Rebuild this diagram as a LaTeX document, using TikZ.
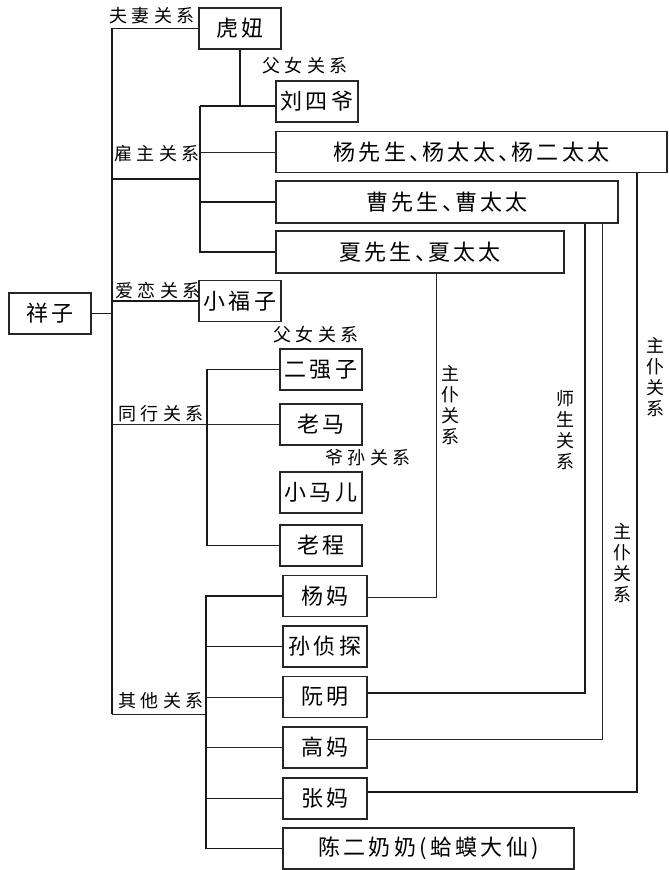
\documentclass[tikz,border=0pt]{standalone}
\usepackage{fontspec}
\newfontfamily\cjkbox[LetterSpace=15]{Noto Sans CJK SC}
\newfontfamily\cjklab[LetterSpace=25]{Noto Sans CJK SC}
\newfontfamily\cjkv{Noto Sans CJK SC}
\newcommand\dun{、\kern-9pt\relax}
\tikzset{
  box/.style={draw=black!85, line width=1.4pt, minimum height=41pt, inner sep=0pt,
    font=\cjkbox\fontsize{22}{26}\selectfont},
  lab/.style={inner sep=0pt, font=\cjklab\fontsize{18}{21}\selectfont},
  vlab/.style={inner sep=0pt, align=center, font=\cjkv\fontsize{18}{21}\selectfont},
  conn/.style={draw=black!90, line width=1.4pt},
  tconn/.style={draw=black!85, line width=0.9pt},
}
\begin{document}
\begin{tikzpicture}[x=1pt,y=-1pt]
\fill[white] (0,0) rectangle (669,870);
\useasboundingbox (0,0) rectangle (669,870);

% boxes
\node[box, minimum width=82pt] (xiangzi) at (50,313.5) {祥子};
\node[box, minimum width=82pt] (huniu) at (240,28.5) {虎妞};
\node[box, minimum width=82pt] (liu) at (317,101.5) {刘四爷};
\node[box, minimum width=391pt] (yang) at (471.5,152) {杨先生\dun 杨太太\dun 杨二太太};
\node[box, minimum width=342pt, minimum height=42pt] (cao) at (447,202) {曹先生\dun 曹太太};
\node[box, minimum width=288pt, minimum height=42pt] (xia) at (420,252) {夏先生\dun 夏太太};
\node[box, minimum width=82pt] (xfz) at (240,301) {小福子};
\node[box, minimum width=82pt] (erq) at (321,369.5) {二强子};
\node[box, minimum width=82pt] (laoma) at (321,424.5) {老马};
\node[box, minimum width=82pt] (xmr) at (321,492.5) {小马儿};
\node[box, minimum width=82pt] (laocheng) at (321,545.5) {老程};
\node[box, minimum width=84pt] (yangma) at (325,596) {杨妈};
\node[box, minimum width=84pt] (sun) at (325,646.5) {孙侦探};
\node[box, minimum width=84pt] (ruan) at (325,697) {阮明};
\node[box, minimum width=84pt] (gao) at (325,747.5) {高妈};
\node[box, minimum width=84pt] (zhang) at (325,798.5) {张妈};
\node[box, minimum width=291pt] (chen) at (428.5,848.5) {陈二奶奶(蛤蟆大仙)};

% junction coordinates
\coordinate (T0) at (112,28.5);
\coordinate (T1) at (112,714);
\coordinate (E0) at (200,106);
\coordinate (Ea) at (112,179);
\coordinate (Eb) at (200,179);
\coordinate (Cx) at (207,400);
\coordinate (Ox) at (206,700);
\coordinate (Xa) at (436,400);
\coordinate (Xb) at (585,400);
\coordinate (Xc) at (602,400);
\coordinate (Xd) at (637,400);

% main trunk
\draw[conn] (huniu.west) -- (T0) -- (T1);
\draw[tconn] (T1) -- (T1 -| Ox);
\draw[conn] (xiangzi.east) -- (xiangzi.east -| T0);

% employer branch
\draw[conn] (huniu.south) -- (huniu.south |- E0);
\draw[conn] (E0) -- (liu.west |- E0);
\draw[conn] (E0) -- (E0 |- xia.west) -- (xia.west);
\draw[conn] (Ea) -- (Eb);
\draw[tconn] (yang.west -| E0) -- (yang.west);
\draw[conn] (cao.west -| E0) -- (cao.west);

% love
\draw[conn] (xfz.west -| T0) -- (xfz.west);

% colleagues
\draw[tconn] (laoma.west -| T0) -- (laoma.west);
\draw[conn] (erq.west) -- (erq.west -| Cx) -- (laocheng.west -| Cx) -- (laocheng.west);

% others
\draw[conn] (yangma.west) -- (yangma.west -| Ox) -- (chen.west -| Ox) -- (chen.west);
\draw[conn] (sun.west -| Ox) -- (sun.west);
\draw[tconn] (ruan.west -| Ox) -- (ruan.west);
\draw[tconn] (gao.west -| Ox) -- (gao.west);
\draw[conn] (zhang.west -| Ox) -- (zhang.west);

% right-side relations
\coordinate (Ya) at (369,597);
\coordinate (Ra) at (369,693);
\coordinate (Ga) at (369,739);
\coordinate (Za) at (369,792);
\draw[tconn] (yangma.east |- Ya) -- (Ya -| Xa) -- (xia.south -| Xa);
\draw[conn] (ruan.east |- Ra) -- (Ra -| Xb) -- (cao.south -| Xb);
\draw[tconn] (gao.east |- Ga) -- (Ga -| Xc) -- (cao.south -| Xc);
\draw[conn] (zhang.east |- Za) -- (Za -| Xd) -- (yang.south -| Xd);

% labels
\node[lab] (l1) at (152,16) {夫妻关系};
\node[lab] (l2) at (305,66) {父女关系};
\node[lab] (l3) at (157,154) {雇主关系};
\node[lab] (l4) at (158,291) {爱恋关系};
\node[lab] (l5) at (316,335) {父女关系};
\node[lab] (l6) at (161,414) {同行关系};
\node[lab] (l7) at (368,458) {爷孙关系};
\node[lab] (l8) at (161,701) {其他关系};
\node[vlab] (v1) at (450,405) {主\\仆\\关\\系};
\node[vlab] (v2) at (565,430) {师\\生\\关\\系};
\node[vlab] (v3) at (655,377) {主\\仆\\关\\系};
\node[vlab] (v4) at (622,563) {主\\仆\\关\\系};
\end{tikzpicture}
\end{document}
